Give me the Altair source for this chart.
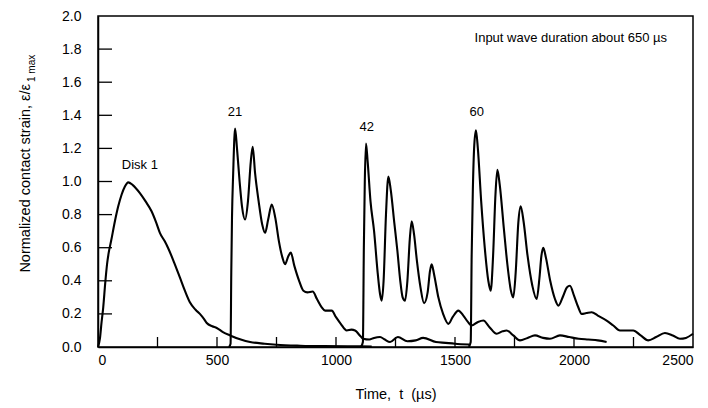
import altair as alt
import pandas as pd

FONT = "Liberation Sans"

# ---- data (time in microseconds, normalized strain) ----
t_disk1 = [0, 8, 15, 22, 30, 38, 45, 55, 71, 85, 99, 113, 127, 145, 176, 200, 225, 245, 260, 280, 294,
           320, 344, 365, 386, 410, 428, 445, 457, 480, 499, 525, 555, 600, 639, 700, 750, 850, 950, 1050, 1150]
v_disk1 = [0.0, 0.05, 0.15, 0.24, 0.38, 0.50, 0.57, 0.64, 0.76, 0.85, 0.92, 0.97, 0.995, 0.98, 0.93, 0.88, 0.82,
           0.75, 0.69, 0.64, 0.60, 0.51, 0.42, 0.34, 0.27, 0.225, 0.20, 0.17, 0.145, 0.125, 0.115, 0.09, 0.07,
           0.045, 0.03, 0.02, 0.014, 0.008, 0.005, 0.004, 0.003]

t_disk21 = [550, 557, 560, 563, 568, 576, 584, 595, 605, 618, 630, 642, 650, 660, 675, 690, 702, 715, 730, 745,
            760, 775, 786, 800, 810, 825, 845, 863, 880, 902, 920, 940, 954, 970, 982, 1000, 1020, 1045, 1065,
            1080, 1100, 1114, 1140, 1160, 1185, 1205, 1227, 1260, 1300, 1335, 1366, 1420, 1460, 1500, 1560]
v_disk21 = [0.0, 0.02, 0.45, 0.78, 1.05, 1.32, 1.20, 1.0, 0.85, 0.77, 0.88, 1.12, 1.21, 1.05, 0.88, 0.74, 0.69,
            0.77, 0.86, 0.78, 0.64, 0.54, 0.50, 0.55, 0.57, 0.49, 0.40, 0.34, 0.33, 0.335, 0.29, 0.24, 0.22,
            0.22, 0.22, 0.18, 0.14, 0.10, 0.105, 0.10, 0.07, 0.05, 0.045, 0.055, 0.06, 0.045, 0.03, 0.06,
            0.035, 0.04, 0.055, 0.03, 0.025, 0.02, 0.015]

t_disk42 = [1105, 1113, 1117, 1121, 1126, 1133, 1145, 1160, 1175, 1185, 1192, 1200, 1210, 1220, 1230, 1245,
            1258, 1270, 1280, 1290, 1300, 1310, 1318, 1328, 1340, 1355, 1370, 1385, 1395, 1402, 1412, 1430,
            1450, 1472, 1490, 1514, 1535, 1555, 1570, 1595, 1619, 1645, 1675, 1700, 1717, 1745, 1773, 1805,
            1836, 1870, 1899, 1941, 1980, 2020, 2060, 2100, 2137]
v_disk42 = [0.0, 0.03, 0.6, 1.0, 1.23, 1.12, 0.88, 0.70, 0.45, 0.32, 0.28, 0.40, 0.80, 1.03, 0.95, 0.75, 0.58,
            0.40, 0.30, 0.28, 0.40, 0.65, 0.76, 0.68, 0.52, 0.36, 0.265, 0.33, 0.46, 0.50, 0.44, 0.30, 0.20,
            0.14, 0.18, 0.22, 0.19, 0.15, 0.13, 0.15, 0.16, 0.12, 0.08, 0.095, 0.10, 0.07, 0.04, 0.055, 0.07,
            0.055, 0.05, 0.07, 0.06, 0.05, 0.045, 0.04, 0.03]

t_disk60 = [1558, 1566, 1570, 1575, 1581, 1588, 1596, 1610, 1625, 1640, 1650, 1660, 1670, 1678, 1688, 1705,
            1720, 1735, 1745, 1755, 1766, 1776, 1788, 1805, 1825, 1843, 1855, 1863, 1871, 1882, 1900, 1920,
            1934, 1955, 1970, 1983, 2000, 2018, 2032, 2052, 2074, 2100, 2137, 2165, 2193, 2220, 2249, 2280,
            2312, 2345, 2382, 2415, 2445, 2470, 2500]
v_disk60 = [0.0, 0.03, 0.55, 0.95, 1.22, 1.31, 1.20, 0.88, 0.60, 0.40, 0.34, 0.55, 0.92, 1.07, 0.98, 0.72, 0.50,
            0.34, 0.30, 0.45, 0.75, 0.85, 0.76, 0.55, 0.37, 0.29, 0.42, 0.55, 0.60, 0.54, 0.40, 0.29, 0.25,
            0.31, 0.36, 0.37, 0.31, 0.24, 0.20, 0.205, 0.21, 0.19, 0.16, 0.13, 0.10, 0.10, 0.10, 0.07, 0.04,
            0.06, 0.085, 0.07, 0.05, 0.055, 0.08]

x_tick_values = [250, 500, 750, 1000, 1250, 1500, 1750, 2000, 2250]
x_label_values = [0, 500, 1000, 1500, 2000, 2500]
y_tick_values = [0.2, 0.4, 0.6, 0.8, 1.0, 1.2, 1.4, 1.6, 1.8]
y_label_values = [0.0, 0.2, 0.4, 0.6, 0.8, 1.0, 1.2, 1.4, 1.6, 1.8, 2.0]

ann_text = ["Disk 1", "21", "42", "60"]
ann_t = [176, 576, 1129, 1591]
ann_v = [1.10, 1.42, 1.33, 1.42]

note_text = ["Input wave duration about 650 \u00b5s"]
note_t = [2391]
note_v = [1.87]

# ---- tables ----
frames = []
for name, ts, vs in [("1", t_disk1, v_disk1), ("21", t_disk21, v_disk21),
                     ("42", t_disk42, v_disk42), ("60", t_disk60, v_disk60)]:
    frames.append(pd.DataFrame({"t": ts, "v": vs, "disk": name}))
df = pd.concat(frames, ignore_index=True)

XS = alt.Scale(domain=[0, 2500], nice=False, zero=False)
YS = alt.Scale(domain=[0, 2.0], nice=False, zero=False)

XAX = alt.Axis(values=x_label_values, ticks=False, grid=False,
               title="Time,\u00a0\u00a0t\u00a0\u00a0(\u00b5s)",
               labelPadding=6, titlePadding=20, format="d")
YAX = alt.Axis(values=y_label_values, ticks=False, grid=False, title=None, labelPadding=17, format=".1f")

lines = alt.Chart(df).mark_line(color="black", strokeWidth=2.1, interpolate="monotone").encode(
    x=alt.X("t:Q", scale=XS, axis=XAX),
    y=alt.Y("v:Q", scale=YS, axis=YAX),
    detail="disk:N",
)

xticks = alt.Chart(pd.DataFrame({"t": x_tick_values})).mark_rule(color="black", strokeWidth=1.3).encode(
    x=alt.X("t:Q", scale=XS, axis=XAX), y=alt.value(331), y2=alt.value(321))

yticks = alt.Chart(pd.DataFrame({"v": y_tick_values})).mark_rule(color="black", strokeWidth=1.3).encode(
    y=alt.Y("v:Q", scale=YS, axis=YAX), x=alt.value(0), x2=alt.value(14))

ann = alt.Chart(pd.DataFrame({"t": ann_t, "v": ann_v, "label": ann_text})).mark_text(
    font=FONT, fontSize=13, color="black", align="center", baseline="middle").encode(
    x=alt.X("t:Q", scale=XS, axis=XAX), y=alt.Y("v:Q", scale=YS, axis=YAX), text="label:N")

note = alt.Chart(pd.DataFrame({"t": note_t, "v": note_v, "label": note_text})).mark_text(
    font=FONT, fontSize=13, color="black", align="right", baseline="middle").encode(
    x=alt.X("t:Q", scale=XS, axis=XAX), y=alt.Y("v:Q", scale=YS, axis=YAX), text="label:N")

ytitle_main = alt.Chart(pd.DataFrame({"label": ["Normalized contact strain, \u03b5/\u03b5"]})).mark_text(
    font=FONT, fontSize=14.5, color="black", angle=270, align="right", baseline="middle").encode(
    x=alt.value(-72), y=alt.value(68), text="label:N")

ytitle_sub = alt.Chart(pd.DataFrame({"label": ["1 max"]})).mark_text(
    font=FONT, fontSize=10, color="black", angle=270, align="left", baseline="middle").encode(
    x=alt.value(-66), y=alt.value(66), text="label:N")

chart = alt.layer(lines, xticks, yticks, ann, note, ytitle_main, ytitle_sub).properties(
    width=595, height=331,
    autosize=alt.AutoSizeParams(type="none"),
    padding={"left": 98, "top": 16, "right": 15, "bottom": 61},
    background="white",
).configure_view(stroke="black", strokeWidth=1.5).configure_axis(
    domainColor="black", domainWidth=1.5, labelFont=FONT, labelFontSize=14, labelColor="black",
    titleFont=FONT, titleFontSize=14.5, titleFontWeight="normal", titleColor="black",
)

chart.save("out.html", embed_options={"renderer": "svg", "actions": False})
